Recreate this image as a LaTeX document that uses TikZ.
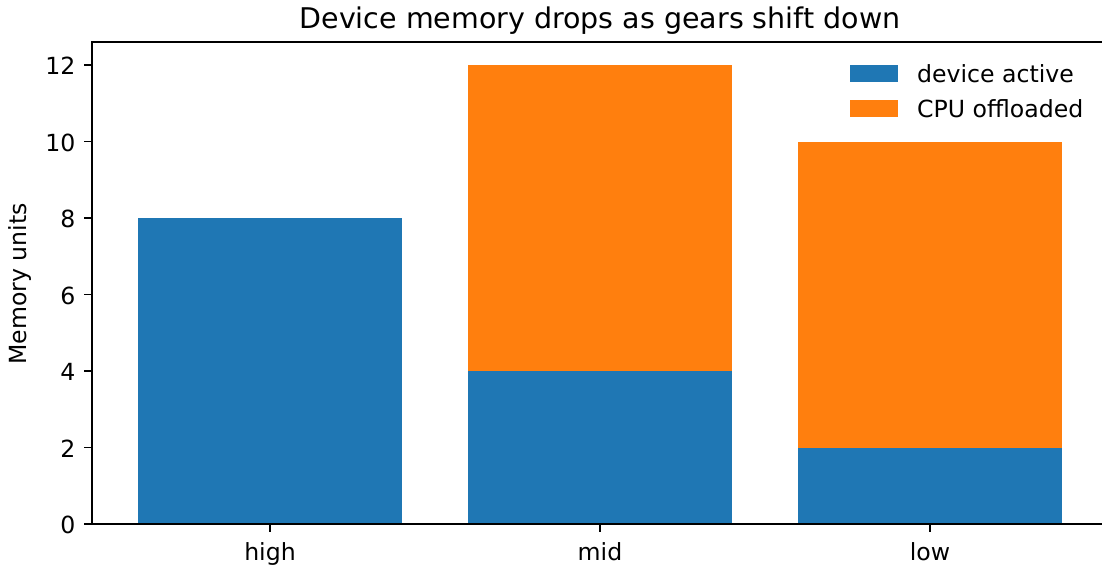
\documentclass[tikz,border=0pt]{standalone}
\usepackage{fontspec}
\setmainfont{DejaVu Sans}
\definecolor{devblue}{HTML}{1F77B4}
\definecolor{cpuorange}{HTML}{FF7F0E}
\begin{document}
\begin{tikzpicture}[x=1pt,y=-1pt,
  ticklabel/.style={inner sep=0pt,font=\fontsize{23.6}{28}\selectfont,text=black},
  titlelabel/.style={inner sep=0pt,font=\fontsize{28.5}{34}\selectfont,text=black},
  spine/.style={line width=1.9pt,draw=black,line cap=rect},
  tickmark/.style={line width=1.9pt,draw=black},
  devbar/.style={fill=devblue,draw=none},
  cpubar/.style={fill=cpuorange,draw=none}]
\useasboundingbox (0,0) rectangle (1102,571);

% value v maps to y = 524 - 38.25 v ; category u maps to x = 270 + 330 u
% bars (width 0.8 category units = 264)
\fill[devbar] (138,524) rectangle (402,218);
\fill[devbar] (468,524) rectangle (732,371);
\fill[cpubar] (468,371) rectangle (732,65);
\fill[devbar] (798,524) rectangle (1062,447.5);
\fill[cpubar] (798,447.5) rectangle (1062,141.5);

% axes frame (left, bottom, top)
\coordinate (ax-bl) at (92,524);
\coordinate (ax-tl) at (92,42);
\coordinate (ax-br) at (1102,524);
\coordinate (ax-tr) at (1102,42);
\draw[spine] (ax-tl) -- (ax-bl) -- (ax-br);
\draw[spine] (ax-tl) -- (ax-tr);

% y ticks and labels
\foreach \v in {0,2,4,6,8,10,12}{
  \pgfmathsetmacro{\yy}{524-38.25*\v}
  \coordinate (yt\v) at (92,\yy);
  \coordinate (ytl\v) at (83.6,\yy);
  \draw[tickmark] (yt\v) -- (ytl\v);
  \node[ticklabel,anchor=east,yshift=-1.2pt] (ylab\v) at (75.5,\yy) {\v};
}

% x ticks and labels
\foreach \u/\name in {0/high,1/mid,2/low}{
  \pgfmathsetmacro{\xx}{270+330*\u}
  \coordinate (xt\u) at (\xx,524);
  \coordinate (xtl\u) at (\xx,532.4);
  \draw[tickmark] (xt\u) -- (xtl\u);
  \node[ticklabel,anchor=base] (xlab\u) at (\xx,560.5) {\name};
}

% axis label and title
\node[ticklabel,anchor=base,rotate=90] (ylabel) at (27,284) {Memory units};
\node[titlelabel,anchor=base] (title) at (600,28) {Device memory drops as gears shift down};

% legend
\fill[devbar] (850,65) rectangle (898,82.3);
\fill[cpubar] (850,100) rectangle (898,117.3);
\node[ticklabel,anchor=base west] (leg1) at (917,82.3) {device active};
\node[ticklabel,anchor=base west] (leg2) at (917,117.3) {CPU offloaded};
\end{tikzpicture}
\end{document}
